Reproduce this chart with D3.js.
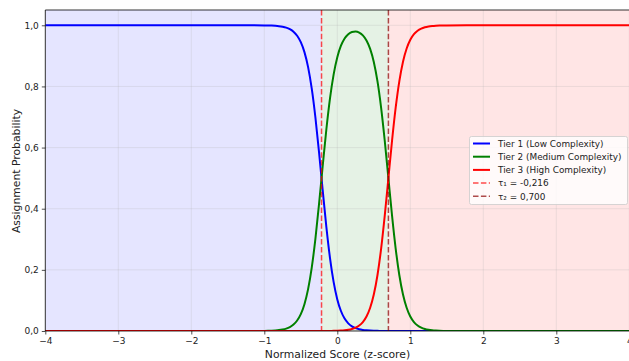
<!DOCTYPE html>
<html><head><meta charset="utf-8">
<script src="https://cdn.jsdelivr.net/npm/d3@7"></script>
<style>body{margin:0;background:#fff}svg{display:block}text{font-family:"DejaVu Sans",sans-serif}</style>
</head><body>
<svg id="c" width="629" height="361"></svg>
<script>
const xs = [-4,-3,-2,-1.5,-1.0,-0.95,-0.9,-0.85,-0.8,-0.75,-0.7,-0.65,-0.6,-0.55,-0.5,-0.45,-0.4,-0.35,-0.3,-0.25,-0.2,-0.15,-0.1,-0.05,0,0.05,0.1,0.15,0.2,0.25,0.3,0.35,0.4,0.45,0.5,0.55,0.6,0.65,0.7,0.75,0.8,0.85,0.9,0.95,1.0,1.05,1.1,1.15,1.2,1.25,1.3,1.35,1.4,1.5,2,3,4];
const tier1 = [1,1,1,1,0.9996,0.9994,0.9989,0.9982,0.9971,0.9952,0.9922,0.9871,0.9790,0.9658,0.9448,0.9122,0.8630,0.7925,0.6985,0.5842,0.4601,0.3407,0.2387,0.1598,0.1034,0.0654,0.0407,0.0251,0.0154,0.0094,0.0057,0.0035,0.0021,0.0013,0.0008,0.0005,0.0003,0.0002,0.0001,0.0001,0,0,0,0,0,0,0,0,0,0,0,0,0,0,0,0,0];
const tier2 = [0,0,0,0,0.0004,0.0006,0.0011,0.0018,0.0029,0.0048,0.0078,0.0129,0.0210,0.0342,0.0552,0.0878,0.1370,0.2075,0.3015,0.4158,0.5398,0.6591,0.7610,0.8396,0.8957,0.9331,0.9568,0.9708,0.9779,0.9796,0.9763,0.9672,0.9505,0.9228,0.8800,0.8171,0.7308,0.6223,0.4999,0.3775,0.2689,0.1824,0.1192,0.0759,0.0474,0.0293,0.0180,0.0110,0.0067,0.0041,0.0025,0.0015,0.0009,0.0003,0,0,0];
const tier3 = [0,0,0,0,0,0,0,0,0,0,0,0,0,0,0,0,0,0,0,0,0.0001,0.0002,0.0003,0.0006,0.0009,0.0015,0.0025,0.0041,0.0067,0.0110,0.0180,0.0293,0.0474,0.0759,0.1192,0.1824,0.2689,0.3775,0.5,0.6225,0.7311,0.8176,0.8808,0.9241,0.9526,0.9707,0.9820,0.9890,0.9933,0.9959,0.9975,0.9985,0.9991,0.9997,1,1,1];
const tau1 = -0.216, tau2 = 0.700;
const seriesNames = ["Tier 1 (Low Complexity)","Tier 2 (Medium Complexity)","Tier 3 (High Complexity)"];
const tauLabels = ["τ₁ = -0,216","τ₂ = 0,700"];
const xTicks = [-4,-3,-2,-1,0,1,2,3,4];
const yTicks = [0,0.2,0.4,0.6,0.8,1.0];

const svg = d3.select("#c");
const L = 45.3, R = 629.3, T = 10, B = 331;
const x = d3.scaleLinear().domain([-4,4]).range([L,R]);
const y = d3.scaleLinear().domain([0,1.05]).range([B,T]);

svg.append("defs").append("clipPath").attr("id","clip").append("rect")
  .attr("x",L).attr("y",T).attr("width",R-L).attr("height",B-T);
const g = svg.append("g").attr("clip-path","url(#clip)");

const regions = [[-4,tau1,"rgba(0,0,255,0.1)"],[tau1,tau2,"rgba(0,128,0,0.1)"],[tau2,4,"rgba(255,0,0,0.1)"]];
g.selectAll("rect.reg").data(regions).enter().append("rect")
  .attr("x",d=>x(d[0])).attr("width",d=>x(d[1])-x(d[0]))
  .attr("y",T).attr("height",B-T).attr("fill",d=>d[2]);

g.selectAll("line.gx").data(xTicks).enter().append("line")
  .attr("x1",d=>x(d)).attr("x2",d=>x(d)).attr("y1",T).attr("y2",B)
  .attr("stroke","#b0b0b0").attr("stroke-opacity",0.3).attr("stroke-width",0.8);
g.selectAll("line.gy").data(yTicks).enter().append("line")
  .attr("y1",d=>y(d)).attr("y2",d=>y(d)).attr("x1",L).attr("x2",R)
  .attr("stroke","#b0b0b0").attr("stroke-opacity",0.3).attr("stroke-width",0.8);

const colors = ["#0000ff","#008000","#ff0000"];
const line = d3.line().x(d=>x(d[0])).y(d=>y(d[1])).curve(d3.curveMonotoneX);
[tier1,tier2,tier3].forEach((s,i)=>{
  g.append("path").attr("d",line(xs.map((v,j)=>[v,s[j]])))
    .attr("fill","none").attr("stroke",colors[i]).attr("stroke-width",2);
});

const tauColors = ["rgba(255,0,0,0.7)","rgba(139,0,0,0.7)"];
[tau1,tau2].forEach((t,i)=>{
  g.append("line").attr("x1",x(t)).attr("x2",x(t)).attr("y1",T).attr("y2",B)
    .attr("stroke",tauColors[i]).attr("stroke-width",1.5).attr("stroke-dasharray","5.5,2.4");
});

const fmt = d => d3.format(".1f")(d).replace(".",",");
const xa = svg.append("g").attr("transform",`translate(0,${B})`)
  .call(d3.axisBottom(x).tickValues(xTicks).tickSize(3.5).tickPadding(3).tickFormat(d=>d<0?"−"+Math.abs(d):String(d)));
const ya = svg.append("g").attr("transform",`translate(${L},0)`)
  .call(d3.axisLeft(y).tickValues(yTicks).tickSize(3.5).tickPadding(3).tickFormat(fmt));
[xa,ya].forEach(a=>{
  a.select(".domain").remove();
  a.selectAll("text").attr("font-size",9).attr("fill","#222").attr("font-family","DejaVu Sans");
  a.selectAll("line").attr("stroke","#222").attr("stroke-width",0.8);
});

svg.append("line").attr("x1",L).attr("x2",L).attr("y1",T).attr("y2",B).attr("stroke","#000").attr("stroke-width",0.8);
svg.append("line").attr("x1",L).attr("x2",R).attr("y1",B).attr("y2",B).attr("stroke","#000").attr("stroke-width",0.8);
svg.append("line").attr("x1",L).attr("x2",R).attr("y1",T).attr("y2",T).attr("stroke","#000").attr("stroke-width",0.8);

svg.append("text").attr("x",337.5).attr("y",358).attr("text-anchor","middle")
  .attr("font-size",10.8).attr("fill","#222").text("Normalized Score (z-score)");
svg.append("text").attr("transform",`translate(19.5,171) rotate(-90)`).attr("text-anchor","middle")
  .attr("font-size",10.8).attr("fill","#222").text("Assignment Probability");

const lg = svg.append("g");
lg.append("rect").attr("x",469.5).attr("y",136.5).attr("width",158).attr("height",68).attr("rx",2)
  .attr("fill","rgba(255,255,255,0.8)").attr("stroke","#cccccc").attr("stroke-width",0.8);
const items = seriesNames.map((n,i)=>({n,c:colors[i],dash:null,w:2}))
  .concat(tauLabels.map((n,i)=>({n,c:tauColors[i],dash:"5.5,2.4",w:1.5})));
items.forEach((it,i)=>{
  const yy = 143.5 + i*13.2;
  lg.append("line").attr("x1",473).attr("x2",490).attr("y1",yy).attr("y2",yy)
    .attr("stroke",it.c).attr("stroke-width",it.w).attr("stroke-dasharray",it.dash);
  lg.append("text").attr("x",498).attr("y",yy+3.2).attr("font-size",8.9).attr("fill","#222").text(it.n);
});
</script>
</body></html>
